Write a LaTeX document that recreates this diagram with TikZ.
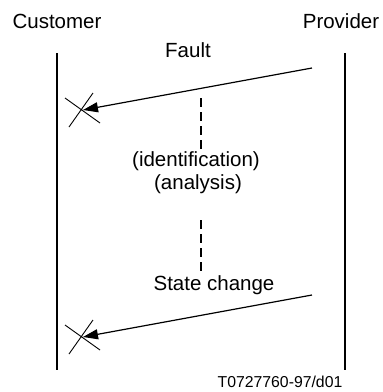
\documentclass[tikz,border=0pt]{standalone}
\usepackage{fontspec}
\setmainfont{Liberation Sans}
\usetikzlibrary{arrows.meta}
\tikzset{
    lifeline/.style={line width=2pt},
    message/.style={line width=1.2pt, -{Triangle[length=15pt,width=10pt]}},
    cancel/.style={line width=0.9pt},
    pause/.style={line width=2pt, dash pattern=on 9pt off 5pt},
    lbl/.style={inner sep=0pt, anchor=base, font=\fontsize{20.5}{24}\selectfont},
    tag/.style={inner sep=0pt, anchor=base, font=\fontsize{15.8}{19}\selectfont}
}
\begin{document}
\begin{tikzpicture}[x=1pt, y=-1pt]
        \useasboundingbox (0, 0) rectangle (383, 392);
        \node[lbl] (customer) at (57, 28) {Customer};
        \node[lbl] (provider) at (341, 28) {Provider};
        \coordinate (custtop) at (57, 53);
        \coordinate (custbot) at (57, 370);
        \coordinate (provtop) at (345, 53);
        \coordinate (provbot) at (345, 370);
        \draw[lifeline] (custtop) -- (custbot);
        \draw[lifeline] (provtop) -- (provbot);
        % fault report
        \node[lbl] (fault) at (188, 57) {Fault};
        \coordinate (faultsrc) at (312, 68);
        \coordinate (faultdst) at (83, 110);
        \draw[message] (faultsrc) -- (faultdst);
        \draw[cancel] (faultdst) ++(-18, -12) -- ++(35, 25) (faultdst) ++(-14, 17) -- ++(24, -34);
        % waiting
        \coordinate (wait1top) at (201, 98);
        \coordinate (wait1bot) at (201, 152);
        \draw[pause] (wait1top) -- (wait1bot);
        \node[lbl] (ident) at (196, 166) {(identification)};
        \node[lbl] (analysis) at (198, 189) {(analysis)};
        \coordinate (wait2top) at (201, 220);
        \coordinate (wait2bot) at (201, 272);
        \draw[pause] (wait2top) -- (wait2bot);
        % state change report
        \node[lbl] (state) at (214, 290) {State change};
        \coordinate (statesrc) at (312, 295);
        \coordinate (statedst) at (83, 337);
        \draw[message] (statesrc) -- (statedst);
        \draw[cancel] (statedst) ++(-18, -12) -- ++(35, 25) (statedst) ++(-14, 17) -- ++(24, -34);
        \node[tag] (figid) at (280, 387) {T0727760-97/d01};
\end{tikzpicture}
\end{document}
